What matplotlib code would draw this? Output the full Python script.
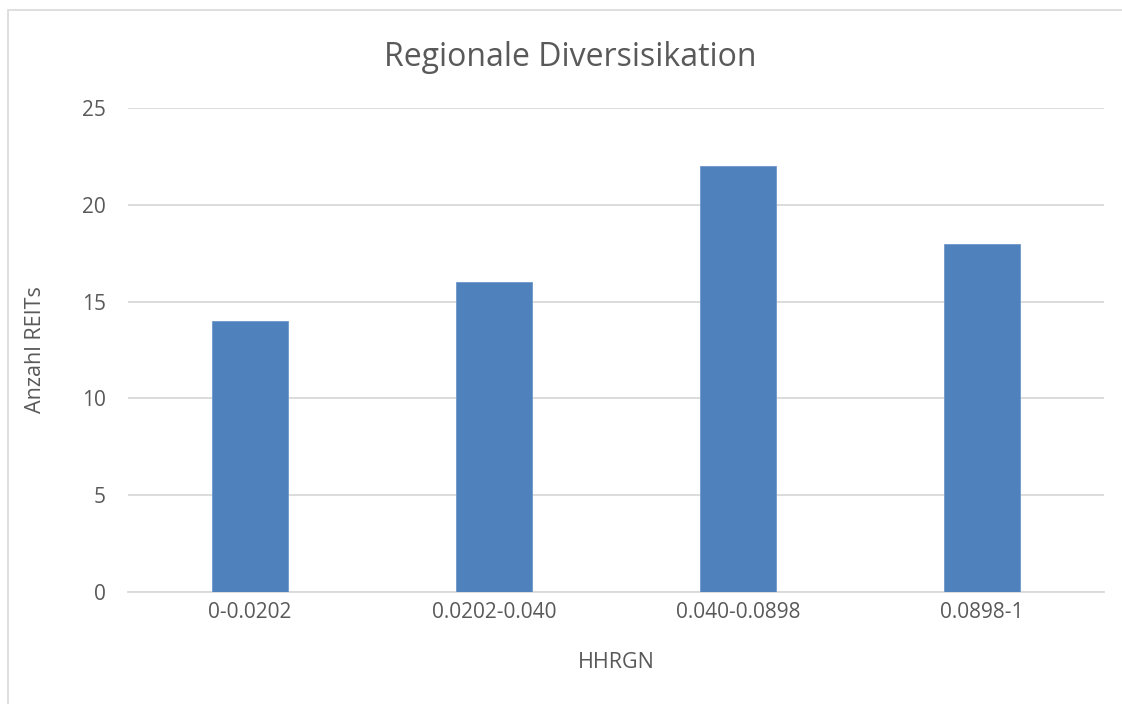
import matplotlib.pyplot as plt
from matplotlib.patches import Rectangle

# Daten
categories = ['0-0.0202', '0.0202-0.040', '0.040-0.0898', '0.0898-1']
counts = [14, 16, 22, 18]
yticks = [0, 5, 10, 15, 20, 25]

TEXT = '#595959'
GRID = '#D9D9D9'
BAR = '#4F81BD'

plt.rcParams['font.family'] = ['Open Sans', 'DejaVu Sans']

fig = plt.figure(figsize=(11.22, 7.04), dpi=100)
W, H = 1122, 704
left, right, bottom, top = 128, 1104, 592, 108
ax = fig.add_axes([left / W, 1 - bottom / H, (right - left) / W, (bottom - top) / H])

# chart frame (only top/left edges visible in the crop)
fig.patches.append(Rectangle((8 / W, -0.1), 1.2, 1 - 10 / H + 0.1, transform=fig.transFigure,
                             fill=False, edgecolor=GRID, linewidth=1.2))

x = range(len(categories))
ax.bar(x, counts, width=0.31, color=BAR, edgecolor='#6E97CB', linewidth=0.6, zorder=3)

ax.set_xlim(-0.5, len(categories) - 0.5)
ax.set_ylim(0, 25)
ax.set_yticks(yticks)
ax.set_xticks(list(x))
ax.set_xticklabels(categories)
ax.yaxis.grid(True, color=GRID, linewidth=1.3, zorder=0)
ax.set_axisbelow(True)
for s in ['top', 'right', 'left']:
    ax.spines[s].set_visible(False)
ax.spines['bottom'].set_color(GRID)
ax.spines['bottom'].set_linewidth(1.3)
ax.tick_params(length=0, labelsize=15, labelcolor=TEXT)
ax.tick_params(axis='y', pad=16)
ax.tick_params(axis='x', pad=7)

ax.set_ylabel('Anzahl REITs', fontsize=15.5, color=TEXT, labelpad=26)
ax.set_xlabel('HHRGN', fontsize=15.5, color=TEXT, labelpad=21)
fig.text(570 / W, 1 - 57 / H, 'Regionale Diversisikation', fontsize=23, color=TEXT,
         ha='center', va='center')

fig.savefig('out.png', dpi=100)
